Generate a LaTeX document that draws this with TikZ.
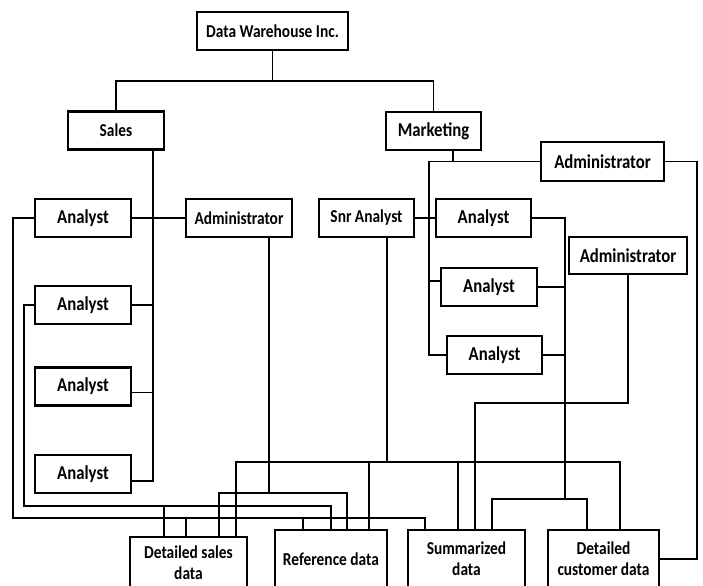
\documentclass[tikz,border=0pt]{standalone}
\usepackage{fontspec}
\usepackage{tikz}
\newfontfamily\chartfont[FakeStretch=0.85]{Carlito}

\begin{document}
\begin{tikzpicture}[x=0.025cm, y=-0.025cm, line width=0.85pt,
		unit/.style={draw, line width=1.9pt, inner sep=0pt, minimum height=0.95cm, align=center, font=\chartfont\bfseries\fontsize{12.9}{15}\selectfont},
		big/.style={font=\chartfont\bfseries\fontsize{14}{16}\selectfont}]
	\useasboundingbox (0,0) rectangle (703,585);

	\node[unit, minimum width=3.775cm]		(DW)	at (272.5,31)	{Data Warehouse Inc.};
	\node[unit, minimum width=2.4cm]		(SALES)	at (116,130.5)	{Sales};
	\node[unit, big, minimum width=2.375cm]	(MKT)	at (433.5,131)	{Marketing};

	\node[unit, big, minimum width=2.4cm]	(SAN1)	at (83,218)		{Analyst};
	\node[unit, minimum width=2.65cm]		(SADM)	at (239,218)	{Administrator};
	\node[unit, big, minimum width=2.4cm]	(SAN2)	at (83,305)		{Analyst};
	\node[unit, big, minimum width=2.4cm]	(SAN3)	at (83,386.5)	{Analyst};
	\node[unit, big, minimum width=2.4cm]	(SAN4)	at (83,474)		{Analyst};

	\node[unit, minimum width=2.375cm]		(SNR)	at (366.5,218)	{Snr Analyst};
	\node[unit, big, minimum width=2.375cm]	(MAN1)	at (483.5,218)	{Analyst};
	\node[unit, big, minimum width=2.4cm]	(MAN2)	at (489,287)	{Analyst};
	\node[unit, big, minimum width=2.375cm]	(MAN3)	at (494.5,355)	{Analyst};
	\node[unit, big, minimum width=3.075cm, minimum height=0.975cm]	(MADM1)	at (602.5,161.5)	{Administrator};
	\node[unit, big, minimum width=2.95cm, minimum height=0.925cm]	(MADM2)	at (628,255.5)	{Administrator};

	\node[unit, minimum width=2.925cm, minimum height=1.275cm]	(DSD)	at (188.5,562.5)	{Detailed sales\\data};
	\node[unit, minimum width=2.8cm, minimum height=1.45cm]		(REF)	at (331,559)		{Reference data};
	\node[unit, minimum width=2.925cm, minimum height=1.45cm]	(SUM)	at (466.5,559)		{Summarized\\data};
	\node[unit, minimum width=2.775cm, minimum height=1.45cm]	(DCD)	at (603.5,559)		{Detailed\\customer data};

	\coordinate (T0) at (272,81);
	\coordinate (S0) at (153,481);
	\coordinate (M0) at (453,162);
	\coordinate (M1) at (429,162);
	\coordinate (A0) at (13,518);	\coordinate (A1) at (425,518);
	\coordinate (AT1) at (186,518);	\coordinate (AT2) at (303,518);
	\coordinate (B0) at (24,506);	\coordinate (B1) at (331,506);
	\coordinate (BT1) at (164,506);
	\coordinate (C0) at (269,493);	\coordinate (C1) at (219,493);	\coordinate (C2) at (347,493);
	\coordinate (D0) at (387,462);	\coordinate (D1) at (236,462);	\coordinate (D2) at (620,462);
	\coordinate (DT1) at (369,462);	\coordinate (DT2) at (458,462);
	\coordinate (E0) at (475,403);
	\coordinate (F0) at (565,499);	\coordinate (F1) at (492,499);	\coordinate (F2) at (587,499);
	\coordinate (G0) at (697,559);

	\draw	(DW.south) -- (DW.south |- T0);
	\draw	(SALES.north) |- (T0) -| (MKT.north);

	\draw	(SALES.south -| S0) -- (S0);
	\draw	(SAN1.east) -- (SADM.west);
	\draw	(SAN2.east) -| (S0);
	\draw	([yshift=-0.15cm]SAN3.east) -| (S0);
	\draw	([yshift=-0.175cm]SAN4.east) -| (S0);

	\draw	(MKT.south -| M0) -- (M0);
	\draw	(MADM1.west) -| (M1) |- (MAN3.west);
	\draw	(SNR.east) -- (MAN1.west);
	\draw	([yshift=0.15cm]MAN2.west) -| (M1);

	\draw	(SAN1.west) -| (A0) -- (A1) -- (A1 |- SUM.north);
	\draw	(AT1) -- (AT1 |- DSD.north);
	\draw	(AT2) -- (AT2 |- REF.north);

	\draw	(SAN2.west) -| (B0) -- (B1) -- (B1 |- REF.north);
	\draw	(BT1) -- (BT1 |- DSD.north);

	\draw	(SADM.south -| C0) -- (C0);
	\draw	(C1 |- DSD.north) -- (C1) -- (C2) -- (C2 |- REF.north);

	\draw	(SNR.south -| D0) -- (D0);
	\draw	(D1 |- DSD.north) -- (D1) -- (D2) -- (D2 |- DCD.north);
	\draw	(DT1) -- (DT1 |- REF.north);
	\draw	(DT2) -- (DT2 |- SUM.north);

	\draw	(MADM2.south) |- (E0) -- (E0 |- SUM.north);

	\draw	(MAN1.east) -| (F0);
	\draw	(MAN2.east) -| (F0);
	\draw	(MAN3.east) -| (F0);
	\draw	(F1 |- SUM.north) -- (F1) -- (F2) -- (F2 |- DCD.north);

	\draw	(MADM1.east) -| (G0) -- (DCD.east);
\end{tikzpicture}
\end{document}
